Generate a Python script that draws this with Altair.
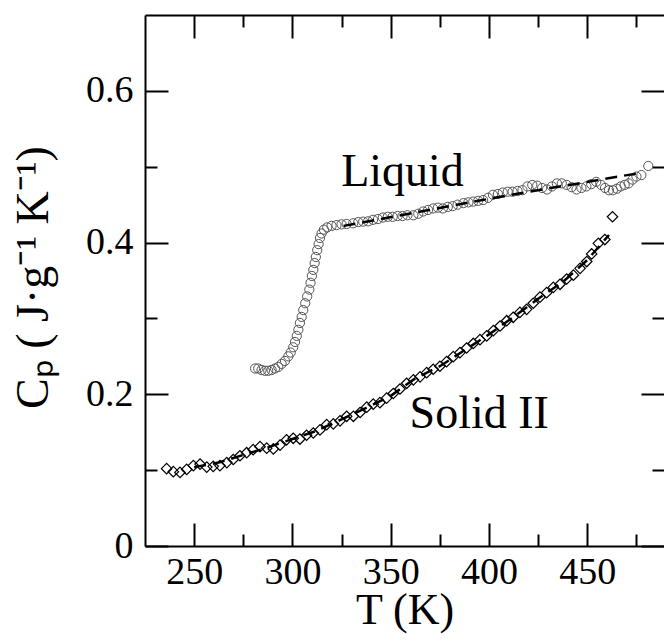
import altair as alt
import pandas as pd

# ---------------- data ----------------
solid_T = [236.0, 239.4, 242.8, 246.2, 249.6, 253.0, 256.4, 259.7, 263.1, 266.6,
           269.9, 273.3, 276.7, 280.0, 283.5, 286.9, 290.3, 293.7, 297.0, 300.4,
           303.8, 307.2, 310.6, 314.0, 317.4, 320.8, 324.2, 327.6, 331.0, 334.4,
           337.8, 341.1, 344.5, 347.9, 351.3, 354.7, 358.1, 361.5, 364.9, 368.3,
           371.6, 375.0, 378.4, 381.8, 385.2, 388.6, 392.0, 395.4, 398.8, 402.2,
           405.6, 409.0, 412.3, 415.7, 419.1, 422.5, 425.9, 429.3, 432.7, 436.1,
           439.5, 442.9, 446.3, 449.7, 452.2, 455.6, 458.9, 462.8]
solid_Cp = [0.102, 0.098, 0.097, 0.101, 0.106, 0.108, 0.104, 0.105, 0.106, 0.110,
            0.114, 0.119, 0.123, 0.127, 0.131, 0.129, 0.128, 0.133, 0.140, 0.142,
            0.141, 0.146, 0.149, 0.153, 0.160, 0.161, 0.165, 0.171, 0.171, 0.176,
            0.183, 0.187, 0.189, 0.195, 0.201, 0.207, 0.2145, 0.219, 0.223, 0.2285,
            0.233, 0.237, 0.243, 0.2496, 0.255, 0.261, 0.267, 0.272, 0.277, 0.284,
            0.290, 0.297, 0.3015, 0.308, 0.312, 0.320, 0.328, 0.334, 0.341, 0.345,
            0.352, 0.357, 0.366, 0.375, 0.385, 0.399, 0.404, 0.434]

liquid_T = [281.0, 282.6, 284.3, 286.0, 287.7, 289.4, 291.1, 292.8, 294.5, 296.2,
            297.9, 299.1, 300.4, 301.3, 302.2, 303.0, 303.8, 304.7, 305.5, 306.5,
            307.5, 308.6, 309.2, 309.9, 310.6, 311.3, 311.9, 312.6, 313.3, 314.0,
            314.8, 316.0, 317.7, 319.9, 322.4, 325.0, 327.6, 330.9,
            333.5, 336.0, 338.5, 341.0, 343.5, 346.0, 348.5, 351.0, 353.5, 356.0,
            358.5, 361.5, 364.0, 366.5, 369.0, 371.5, 374.0, 376.5, 379.0, 381.5,
            384.0, 387.0, 389.5, 392.0, 394.5, 397.0, 399.5, 402.0, 404.5, 407.0,
            409.5, 412.0, 414.5, 417.0, 419.5, 422.0, 424.5, 427.0, 429.5, 432.0,
            434.5, 437.0, 439.5, 442.0, 444.5, 447.0, 449.5, 452.0, 454.5, 457.0,
            459.0, 461.0, 463.0, 465.0, 467.0, 469.0, 471.0, 473.0, 475.0, 477.5,
            481.0]
liquid_Cp = [0.234, 0.234, 0.232, 0.231, 0.231, 0.232, 0.234, 0.236, 0.240, 0.244,
             0.250, 0.255, 0.262, 0.269, 0.277, 0.285, 0.294, 0.302, 0.311, 0.320,
             0.329, 0.338, 0.347, 0.356, 0.364, 0.373, 0.381, 0.390, 0.398, 0.406,
             0.412, 0.417, 0.420, 0.422, 0.423, 0.424, 0.4245, 0.4254,
             0.427, 0.4276, 0.428, 0.430, 0.431, 0.433, 0.434, 0.434, 0.435, 0.435,
             0.436, 0.436, 0.438, 0.441, 0.443, 0.445, 0.446, 0.445, 0.447, 0.448,
             0.450, 0.452, 0.453, 0.454, 0.455, 0.456, 0.459, 0.463, 0.464, 0.466,
             0.467, 0.467, 0.468, 0.469, 0.474, 0.476, 0.475, 0.472, 0.470, 0.474,
             0.478, 0.478, 0.476, 0.473, 0.470, 0.472, 0.474, 0.477, 0.480, 0.476,
             0.472, 0.469, 0.469, 0.471, 0.474, 0.476, 0.478, 0.483, 0.487, 0.489,
             0.501]

solid_fit_T = [250, 262.5, 275, 287.5, 300, 312.5, 325, 337.5, 350, 362.5,
               375, 387.5, 400, 412.5, 425, 437.5, 450, 461]
solid_fit_Cp = [0.104, 0.110, 0.120, 0.130, 0.141, 0.152, 0.167, 0.182, 0.198, 0.221,
                0.237, 0.258, 0.279, 0.302, 0.326, 0.348, 0.377, 0.410]

liquid_fit_T = [326, 409, 475]
liquid_fit_Cp = [0.422, 0.462, 0.491]

label_text = ["Liquid", "Solid II"]
label_T = [356, 395]
label_Cp = [0.475, 0.1556]

x_major = [250, 300, 350, 400, 450]
x_minor = [275, 325, 375, 425, 475]
y_major = [0, 0.2, 0.4, 0.6]
y_minor = [0.1, 0.3, 0.5]

# ---------------- chart ----------------
W, H = 519, 531
FONT = "Liberation Serif"

solid_df = pd.DataFrame({"T": solid_T, "Cp": solid_Cp})
liquid_df = pd.DataFrame({"T": liquid_T, "Cp": liquid_Cp})
solid_fit_df = pd.DataFrame({"T": solid_fit_T, "Cp": solid_fit_Cp})
liquid_fit_df = pd.DataFrame({"T": liquid_fit_T, "Cp": liquid_fit_Cp})
label_df = pd.DataFrame({"T": label_T, "Cp": label_Cp, "label": label_text})

xscale = alt.Scale(domain=[225, 489], nice=False, zero=False)
yscale = alt.Scale(domain=[0, 0.7], nice=False, zero=False)


def tick_axis(orient, values, size, offset, domain=False):
    return alt.Axis(orient=orient, values=values, offset=offset, tickSize=size,
                    ticks=True, labels=False, domain=domain, title="", grid=False,
                    tickColor="black", tickWidth=2, domainColor="black",
                    domainWidth=2)


x_main = alt.Axis(orient="bottom", values=x_major, format="d", ticks=False,
                  domain=True, domainColor="black", domainWidth=2, grid=False,
                  labelFont=FONT, labelFontSize=38, labelColor="black",
                  labelPadding=7, labelFlush=False, labelOverlap=False,
                  title="T (K)", titleFont=FONT, titleFontSize=44,
                  titleFontWeight="normal", titleColor="black",
                  titleBaseline="alphabetic", titleY=77, titleX=W / 2)
y_main = alt.Axis(orient="left", values=y_major, format="~g", ticks=False,
                  domain=True, domainColor="black", domainWidth=2, grid=False,
                  labelFont=FONT, labelFontSize=38, labelColor="black",
                  labelPadding=12, labelFlush=False, labelOverlap=False,
                  title="Cₚ ( J·g⁻¹ K⁻¹)", titleFont=FONT, titleFontSize=46,
                  titleFontWeight="normal", titleColor="black",
                  titleBaseline="alphabetic", titleAngle=270, titleAlign="center",
                  titleX=-98, titleY=262)

solid_pts = alt.Chart(solid_df).mark_point(
    shape="diamond", filled=False, size=110, color="black", strokeWidth=1.2, opacity=1
).encode(
    x=alt.X("T:Q", scale=xscale, axis=x_main),
    y=alt.Y("Cp:Q", scale=yscale, axis=y_main),
)

liquid_pts = alt.Chart(liquid_df).mark_point(
    shape="circle", filled=False, size=85, color="#555555", strokeWidth=1, opacity=1
).encode(
    x=alt.X("T:Q", scale=xscale, axis=tick_axis("top", x_major, 23, -H)),
    y=alt.Y("Cp:Q", scale=yscale, axis=tick_axis("left", y_major, 23, -W)),
)

solid_fit = alt.Chart(solid_fit_df).mark_line(
    color="black", strokeWidth=2.5, strokeDash=[12, 7]
).encode(
    x=alt.X("T:Q", scale=xscale, axis=tick_axis("top", x_minor, 12, -H)),
    y=alt.Y("Cp:Q", scale=yscale, axis=tick_axis("left", y_minor, 12, -W)),
)

liquid_fit = alt.Chart(liquid_fit_df).mark_line(
    color="black", strokeWidth=2.5, strokeDash=[12, 7]
).encode(
    x=alt.X("T:Q", scale=xscale, axis=tick_axis("bottom", x_major, 23, -H, domain=True)),
    y=alt.Y("Cp:Q", scale=yscale, axis=tick_axis("right", y_major, 23, -W)),
)

labels = alt.Chart(label_df).mark_text(
    font=FONT, fontSize=46, align="center", baseline="alphabetic", color="black"
).encode(
    x=alt.X("T:Q", scale=xscale, axis=tick_axis("bottom", x_minor, 12, -H)),
    y=alt.Y("Cp:Q", scale=yscale, axis=tick_axis("right", y_minor, 12, -W)),
    text="label:N",
)

chart = alt.layer(solid_pts, liquid_pts, solid_fit, liquid_fit, labels).resolve_axis(
    x="independent", y="independent"
).properties(
    width=W, height=H,
    autosize=alt.AutoSizeParams(type="none"),
    padding={"left": 137, "top": 7, "right": 0, "bottom": 88},
    background="white",
).configure_view(stroke="transparent")

chart.save("out.html", embed_options={"renderer": "svg", "actions": False})
